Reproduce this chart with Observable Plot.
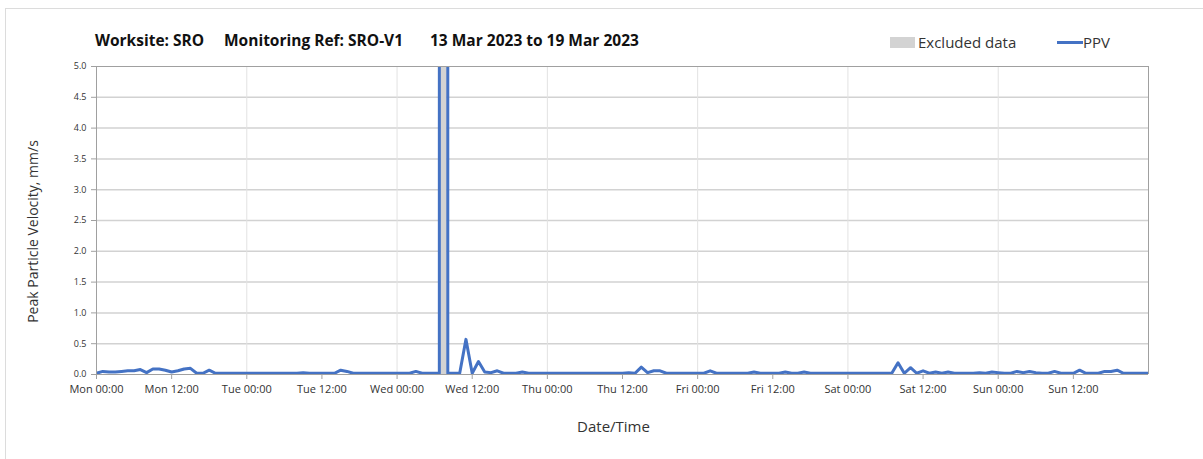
<!DOCTYPE html>
<html>
<head>
<meta charset="utf-8">
<script src="https://cdn.jsdelivr.net/npm/d3@7"></script>
<script src="https://cdn.jsdelivr.net/npm/@observablehq/plot@0.6"></script>
<style>
  html, body { margin: 0; padding: 0; background: #fff; }
  body { width: 1203px; height: 459px; position: relative; overflow: hidden; font-family: "Open Sans", sans-serif; color: #222; }
  .card { position: absolute; left: 5px; top: 8px; right: -2px; bottom: -2px; border-top: 1px solid #dcdcdc; border-left: 1px solid #dcdcdc; }
  .title { position: absolute; top: 29px; font-weight: bold; font-size: 15.5px; color: #111; white-space: nowrap; }
  .legend { position: absolute; top: 32px; font-size: 15px; color: #333; white-space: nowrap; }
  .sw-rect { position: absolute; left: 890px; top: 37px; width: 25px; height: 11px; background: #d3d3d3; }
  .sw-line { position: absolute; left: 1057px; top: 41px; width: 26px; height: 3px; background: #4472C4; }
  #chart { position: absolute; left: 0; top: 56px; }
</style>
</head>
<body>
<div class="card"></div>
<div class="title" style="left:95px">Worksite: SRO</div>
<div class="title" style="left:224px">Monitoring Ref: SRO-V1</div>
<div class="title" style="left:430px">13 Mar 2023 to 19 Mar 2023</div>
<div class="sw-rect"></div>
<div class="legend" style="left:918px">Excluded data</div>
<div class="sw-line"></div>
<div class="legend" style="left:1083px">PPV</div>
<div id="chart"></div>
<script>
// ---- Data ----
const seriesStart = "2023-03-13T00:00:00Z";   // Mon 00:00 (first hourly reading)
const seriesEnd = "2023-03-20T00:00:00Z";     // following Mon 00:00
// Hourly PPV readings (mm/s), one per hour from Mon 00:00; null = replaced by spike readings below
const ppvHourly = [
  0.02,0.05,0.04,0.04,0.05,0.06,0.06,0.08,0.03,0.09,0.09,0.07,   // Mon 00-11
  0.04,0.06,0.09,0.10,0.02,0.02,0.07,0.02,0.02,0.02,0.02,0.02,   // Mon 12-23
  0.02,0.02,0.02,0.02,0.02,0.02,0.02,0.02,0.02,0.03,0.02,0.02,   // Tue 00-11
  0.02,0.02,0.02,0.07,0.05,0.02,0.02,0.02,0.02,0.02,0.02,0.02,   // Tue 12-23
  0.02,0.02,0.02,0.05,0.02,0.02,0.02,null,null,0.02,0.02,0.57,   // Wed 00-11
  0.02,0.21,0.04,0.03,0.06,0.02,0.02,0.02,0.04,0.02,0.02,0.02,   // Wed 12-23
  0.02,0.02,0.02,0.02,0.02,0.02,0.02,0.02,0.02,0.02,0.02,0.02,   // Thu 00-11
  0.02,0.03,0.02,0.12,0.03,0.06,0.06,0.02,0.02,0.02,0.02,0.02,   // Thu 12-23
  0.02,0.02,0.06,0.02,0.02,0.02,0.02,0.02,0.02,0.04,0.02,0.02,   // Fri 00-11
  0.02,0.02,0.04,0.02,0.02,0.04,0.02,0.02,0.02,0.02,0.02,0.02,   // Fri 12-23
  0.02,0.02,0.02,0.02,0.02,0.02,0.02,0.02,0.19,0.02,0.11,0.02,   // Sat 00-11
  0.06,0.02,0.04,0.02,0.04,0.02,0.02,0.02,0.02,0.03,0.02,0.04,   // Sat 12-23
  0.03,0.02,0.02,0.05,0.03,0.05,0.03,0.02,0.02,0.05,0.02,0.02,   // Sun 00-11
  0.02,0.07,0.02,0.02,0.02,0.05,0.05,0.07,0.02,0.02,0.02,0.02,   // Sun 12-23
  0.02                                                            // Mon 00
];
// High readings around the excluded period (go off the 0-5 scale)
const spikeTimes = ["2023-03-15T06:45:00Z","2023-03-15T06:46:00Z","2023-03-15T08:05:00Z","2023-03-15T08:06:00Z"];
const spikeValues = [0.02, 40, 40, 0.02];
// Excluded data period
const excludedStart = ["2023-03-15T07:00:00Z"];
const excludedEnd = ["2023-03-15T08:00:00Z"];
// Axis ticks
const xTickTimes = ["2023-03-13T00:00:00Z","2023-03-13T12:00:00Z","2023-03-14T00:00:00Z","2023-03-14T12:00:00Z",
  "2023-03-15T00:00:00Z","2023-03-15T12:00:00Z","2023-03-16T00:00:00Z","2023-03-16T12:00:00Z",
  "2023-03-17T00:00:00Z","2023-03-17T12:00:00Z","2023-03-18T00:00:00Z","2023-03-18T12:00:00Z",
  "2023-03-19T00:00:00Z","2023-03-19T12:00:00Z"];
const dayGridTimes = ["2023-03-14T00:00:00Z","2023-03-15T00:00:00Z","2023-03-16T00:00:00Z",
  "2023-03-17T00:00:00Z","2023-03-18T00:00:00Z","2023-03-19T00:00:00Z"];
const yTicks = [0.0,0.5,1.0,1.5,2.0,2.5,3.0,3.5,4.0,4.5,5.0];
const yLabel = "Peak Particle Velocity, mm/s";
const xLabel = "Date/Time";

// ---- Build table ----
const t0 = new Date(seriesStart);
const rows = [];
ppvHourly.forEach((v, i) => { if (v != null) rows.push({time: d3.utcHour.offset(t0, i), ppv: v}); });
spikeTimes.forEach((t, i) => rows.push({time: new Date(t), ppv: spikeValues[i]}));
rows.sort((a, b) => a.time - b.time);
const excluded = excludedStart.map((s, i) => ({x1: new Date(s), x2: new Date(excludedEnd[i])}));
const xTicks = xTickTimes.map(d => new Date(d));
const dayGrid = dayGridTimes.map(d => new Date(d));
const xEnd = new Date(seriesEnd);

const chart = Plot.plot({
  width: 1203,
  height: 400,
  marginLeft: 96,
  marginRight: 55,
  marginTop: 10,
  marginBottom: 82,
  style: {fontFamily: "'Open Sans', sans-serif", color: "#333", background: "transparent"},
  x: {type: "utc", domain: [t0, xEnd]},
  y: {domain: [0, 5]},
  marks: [
    Plot.ruleY(yTicks.filter(d => d > 0 && d < 5), {stroke: "#d2d2d2", strokeWidth: 1.5}),
    Plot.ruleX(dayGrid, {stroke: "#e2e2e2", strokeWidth: 1}),
    Plot.rect(excluded, {x1: "x1", x2: "x2", y1: 0, y2: 5, fill: "#d3d3d3"}),
    Plot.line(rows, {x: "time", y: "ppv", stroke: "#4472C4", strokeWidth: 3, clip: true, curve: "linear"}),
    Plot.ruleY([5], {stroke: "#a0a0a0", strokeWidth: 1}),
    Plot.ruleX([xEnd], {stroke: "#a0a0a0", strokeWidth: 1}),
    Plot.ruleY([0], {stroke: "#a0a0a0", strokeWidth: 1}),
    Plot.ruleX([t0], {stroke: "#a0a0a0", strokeWidth: 1}),
    Plot.axisY({ticks: yTicks, tickFormat: d3.format(".1f"), tickSize: 5, tickPadding: 5, fontSize: 9, stroke: "#a0a0a0", fill: "#333", label: null}),
    Plot.axisX({ticks: xTicks, tickFormat: d3.utcFormat("%a %H:%M"), tickSize: 5, tickPadding: 6, fontSize: 11, stroke: "#a0a0a0", fill: "#333", label: null}),
    Plot.text([yLabel], {frameAnchor: "left", textAnchor: "middle", dx: -63, dy: 11, rotate: -90, fontSize: 14, fill: "#333"}),
    Plot.text([xLabel], {frameAnchor: "bottom", textAnchor: "middle", dx: -9, dy: 57, fontSize: 15, fill: "#333"})
  ]
});
document.getElementById("chart").appendChild(chart);
</script>
</body>
</html>
